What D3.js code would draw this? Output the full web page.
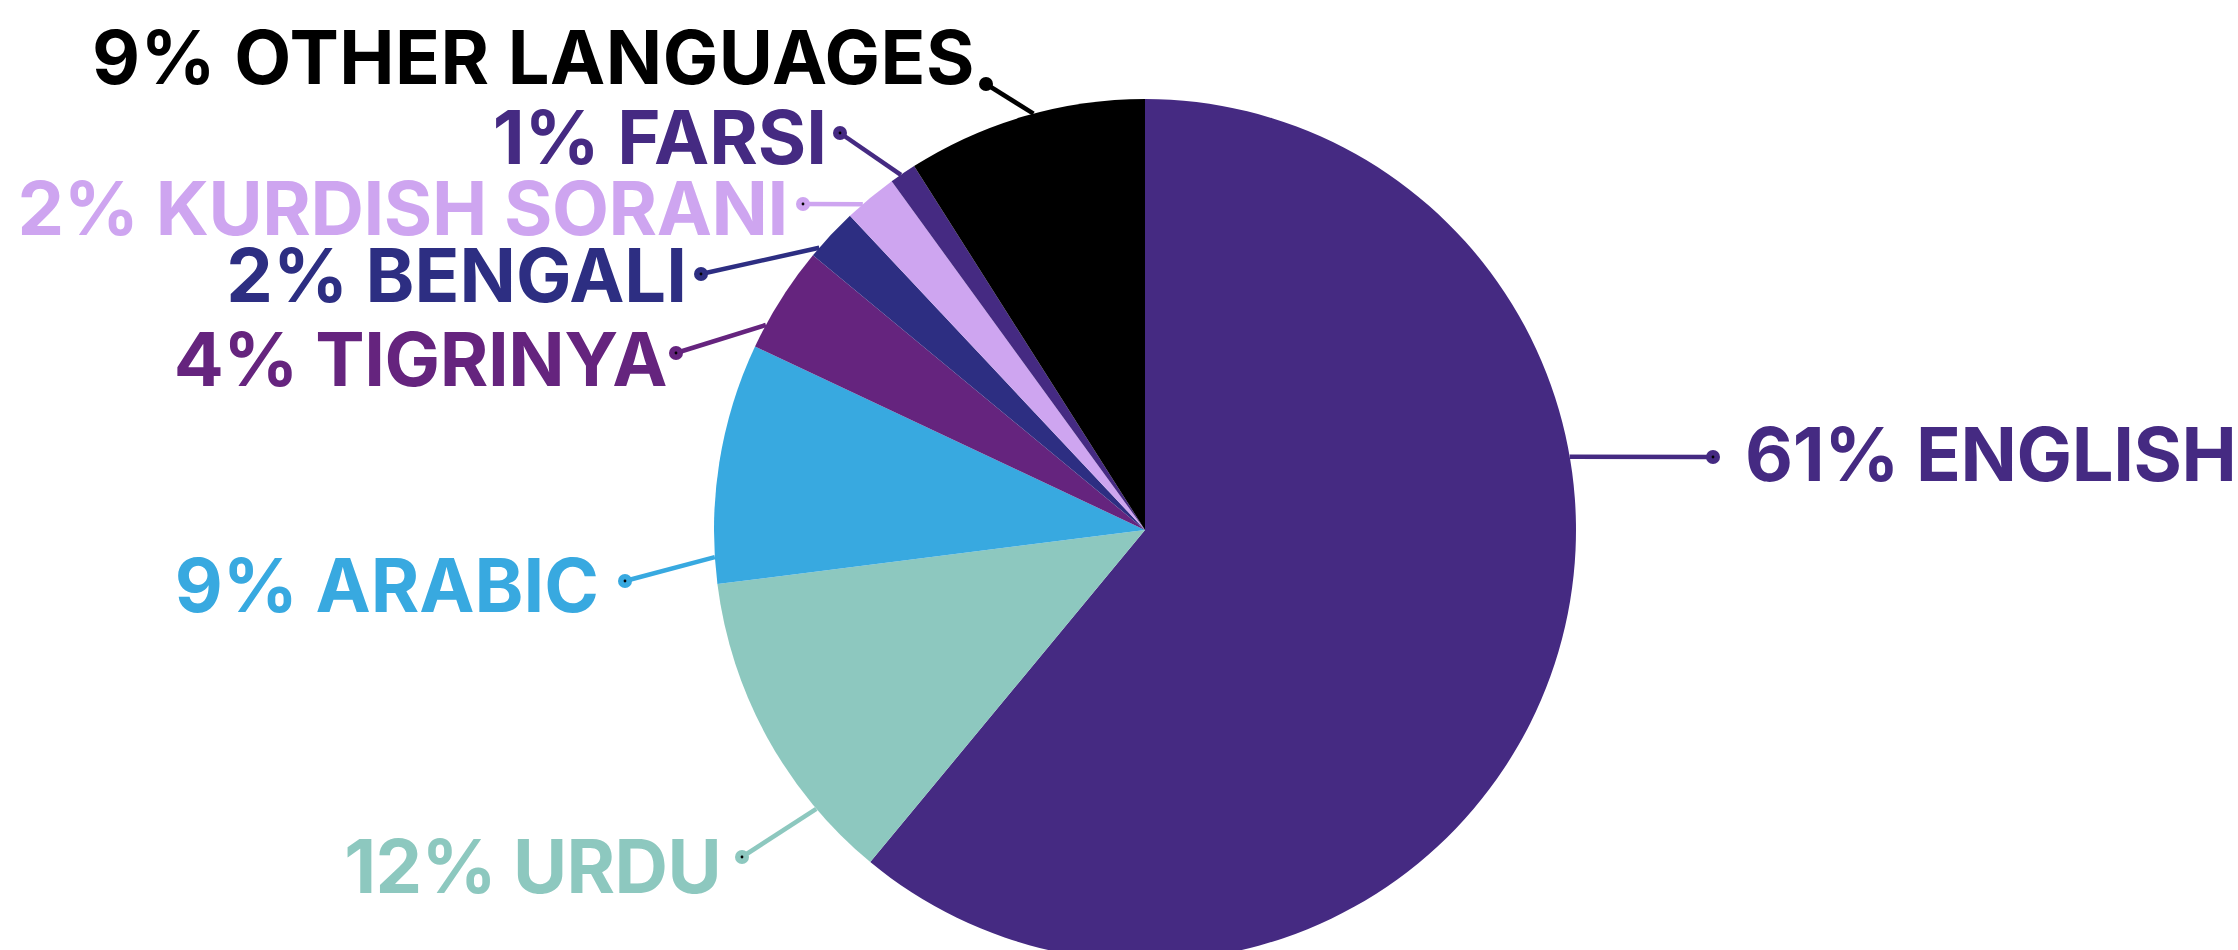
<!DOCTYPE html>
<html>
<head>
<meta charset="utf-8">
<script src="https://cdn.jsdelivr.net/npm/d3@7"></script>
<style>
  html, body { margin: 0; padding: 0; background: #ffffff; overflow: hidden; }
  svg { display: block; }
  text { font-family: Inter, "Open Sans", sans-serif; font-weight: 700; }
</style>
</head>
<body>
<svg id="chart" width="2238" height="950"></svg>
<script>
// Languages spoken, share of respondents (%)
const languages = ["ENGLISH", "URDU", "ARABIC", "TIGRINYA", "BENGALI", "KURDISH SORANI", "FARSI", "OTHER LANGUAGES"];
const shares    = [61, 12, 9, 4, 2, 2, 1, 9];
const colors    = ["#452a82", "#8dc8bf", "#38a9e0", "#65247e", "#2d2e82", "#cea5f0", "#452a82", "#000000"];

// Label placement: leader angle on the rim (degrees clockwise from 12 o'clock),
// dot position, text anchor point and text alignment.
const labelLayout = [
  { angle: 80.2,  dot: [1713, 457], text: [1745, 481], anchor: "start", spacing: -0.4 },
  { angle: 229.7, dot: [742, 857],  text: [721, 893],  anchor: "end",   spacing: -0.6 },
  { angle: 266.4, dot: [625, 581],  text: [599, 612],  anchor: "end",   spacing: 0 },
  { angle: 298.4, dot: [676, 353],  text: [667, 386],  anchor: "end",   spacing: -0.4 },
  { angle: 310.9, dot: [701, 274],  text: [687, 302],  anchor: "end",   spacing: 0 },
  { angle: 319.1, dot: [803, 204],  text: [788, 235],  anchor: "end",   spacing: -0.4 },
  { angle: 325.5, dot: [840, 133],  text: [827, 164],  anchor: "end",   spacing: 0 },
  { angle: 345.0, dot: [986, 84],   text: [975, 84],   anchor: "end",   spacing: 0.5 }
];

const cx = 1145, cy = 530, radius = 431;

const data = languages.map((name, i) => ({ name, value: shares[i], color: colors[i], layout: labelLayout[i] }));

const svg = d3.select("#chart");
const g = svg.append("g").attr("transform", `translate(${cx},${cy})`);

const pie = d3.pie().sort(null).value(d => d.value);
const arc = d3.arc().innerRadius(0).outerRadius(radius);

g.selectAll("path.slice")
  .data(pie(data))
  .join("path")
  .attr("class", "slice")
  .attr("d", arc)
  .attr("fill", d => d.data.color);

// Leader lines from the rim out to each label
const rimPoint = deg => {
  const a = deg * Math.PI / 180;
  return [cx + radius * Math.sin(a), cy - radius * Math.cos(a)];
};

const labels = svg.append("g");
data.forEach(d => {
  const [ex, ey] = rimPoint(d.layout.angle);
  const [dx, dy] = d.layout.dot;
  labels.append("line")
    .attr("x1", ex).attr("y1", ey)
    .attr("x2", dx).attr("y2", dy)
    .attr("stroke", d.color)
    .attr("stroke-width", 4.5);
  labels.append("circle")
    .attr("cx", dx).attr("cy", dy).attr("r", 7)
    .attr("fill", d.color);
  labels.append("circle")
    .attr("cx", dx).attr("cy", dy).attr("r", 1.4)
    .attr("fill", "#000");
  labels.append("text")
    .attr("x", d.layout.text[0])
    .attr("y", d.layout.text[1])
    .attr("text-anchor", d.layout.anchor)
    .attr("fill", d.color)
    .attr("font-size", 74)
    .attr("letter-spacing", d.layout.spacing)
    .text(`${d.value}% ${d.name}`);
});
</script>
</body>
</html>
